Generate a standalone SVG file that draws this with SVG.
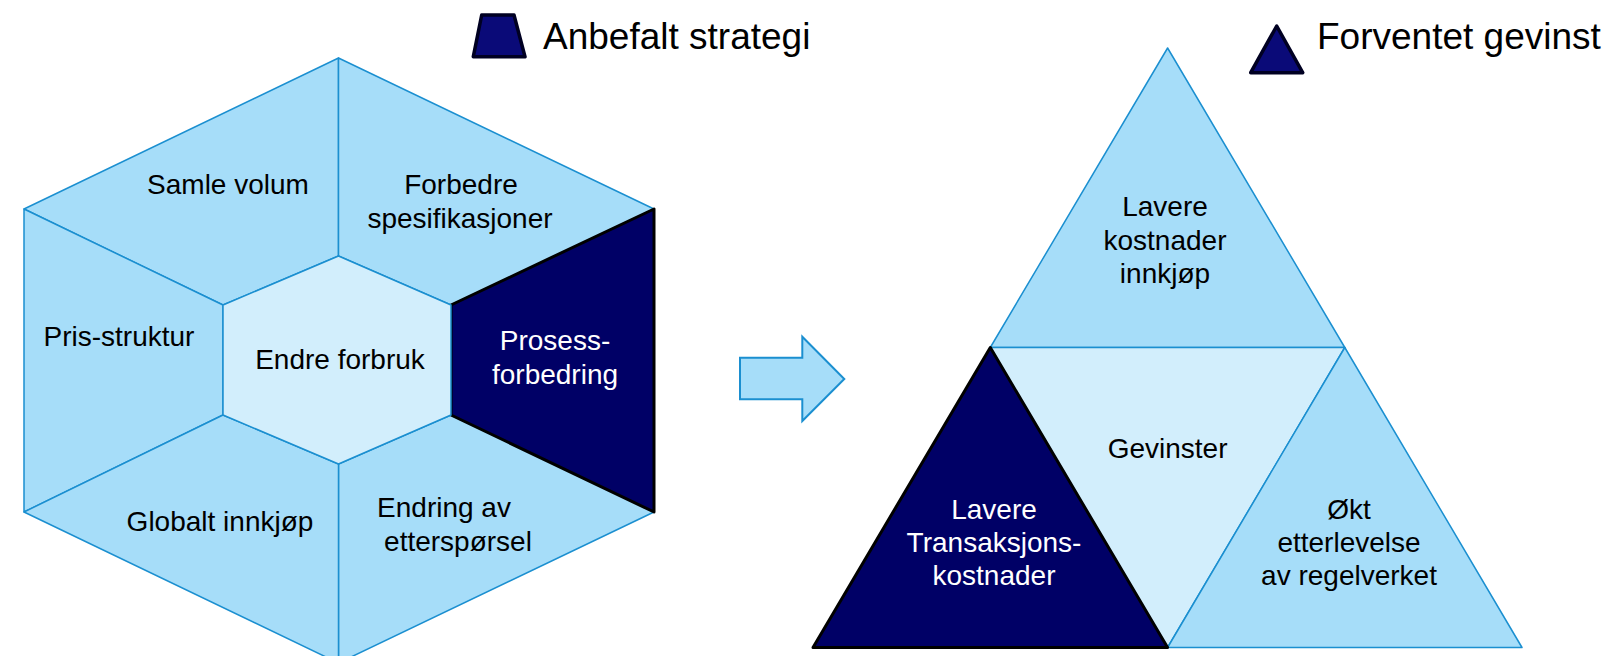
<svg xmlns="http://www.w3.org/2000/svg" width="1623" height="656" viewBox="0 0 1623 656">
<style>
.seg{fill:#a6ddf9;stroke:#1b8fd0;stroke-width:1.5;stroke-linejoin:round}
.ctr{fill:#d2eefc;stroke:#1b8fd0;stroke-width:1.5;stroke-linejoin:round}
.dark{fill:#000066;stroke:#000000;stroke-width:3;stroke-linejoin:round}
.lg{fill:#0a0a78;stroke:#000022;stroke-width:3.5;stroke-linejoin:round}
text{font-family:"Liberation Sans",Arial,sans-serif;font-size:28px;fill:#000000;text-anchor:middle}
.w{fill:#ffffff}
.big{font-size:37px;text-anchor:start}
</style>
<rect width="1623" height="656" fill="#ffffff"/>
<g id="legend-strategi">
<polygon class="lg" points="481.7,15 514,15 525,56.7 473.3,56.7"/>
<text class="big" x="543" y="49">Anbefalt strategi</text>
</g>
<g id="legend-gevinst">
<polygon class="lg" points="1276.7,26 1302.7,72.7 1250.7,72.7"/>
<text class="big" x="1317" y="49">Forventet gevinst</text>
</g>
<g id="samle-volum">
<polygon class="seg" points="24,209 338.5,58 338.5,256 223,305"/>
<text x="228" y="194">Samle volum</text>
</g>
<g id="forbedre-spesifikasjoner">
<polygon class="seg" points="338.5,58 654,209 451,305 338.5,256"/>
<text x="461" y="194">Forbedre</text>
<text x="460" y="228">spesifikasjoner</text>
</g>
<g id="pris-struktur">
<polygon class="seg" points="24,209 223,305 223,415 24,512"/>
<text x="119" y="346">Pris-struktur</text>
</g>
<g id="endring-etterspoersel">
<polygon class="seg" points="654,512 338.5,663 338.5,464 451,415"/>
<text x="444" y="517">Endring av</text>
<text x="458" y="551">etterspørsel</text>
</g>
<g id="globalt-innkjoep">
<polygon class="seg" points="338.5,663 24,512 223,415 338.5,464"/>
<text x="220" y="531">Globalt innkjøp</text>
</g>
<g id="prosess-forbedring">
<polygon class="dark" points="654,209 654,512 451,415 451,305"/>
<text class="w" x="555" y="350">Prosess-</text>
<text class="w" x="555" y="384">forbedring</text>
</g>
<g id="endre-forbruk">
<polygon class="ctr" points="338.5,256 451,305 451,415 338.5,464 223,415 223,305"/>
<text x="340" y="369">Endre forbruk</text>
</g>
<g id="connectors">
<polygon points="740,357.7 802.3,357.7 802.3,336.7 844.3,379 802.3,421 802.3,399.3 740,399.3" fill="#a6ddf9" stroke="#1b8fd0" stroke-width="2" stroke-linejoin="miter"/>
</g>
<g id="lavere-kostnader-innkjoep">
<polygon class="seg" points="1167.6,48 1344.8,347.5 990.3,347.5"/>
<text x="1165" y="216">Lavere</text>
<text x="1165" y="250">kostnader</text>
<text x="1165" y="283">innkjøp</text>
</g>
<g id="gevinster">
<polygon class="ctr" points="990.3,347.5 1344.8,347.5 1167.6,647.5"/>
<text x="1167.6" y="458">Gevinster</text>
</g>
<g id="oekt-etterlevelse">
<polygon class="seg" points="1344.8,347.5 1522,647.5 1167.6,647.5"/>
<text x="1349" y="519">Økt</text>
<text x="1349" y="552">etterlevelse</text>
<text x="1349" y="585">av regelverket</text>
</g>
<g id="lavere-transaksjonskostnader">
<polygon class="dark" points="990.3,347.5 1167.6,647.5 813,647.5"/>
<text class="w" x="994" y="519">Lavere</text>
<text class="w" x="994" y="552">Transaksjons-</text>
<text class="w" x="994" y="585">kostnader</text>
</g>
</svg>
